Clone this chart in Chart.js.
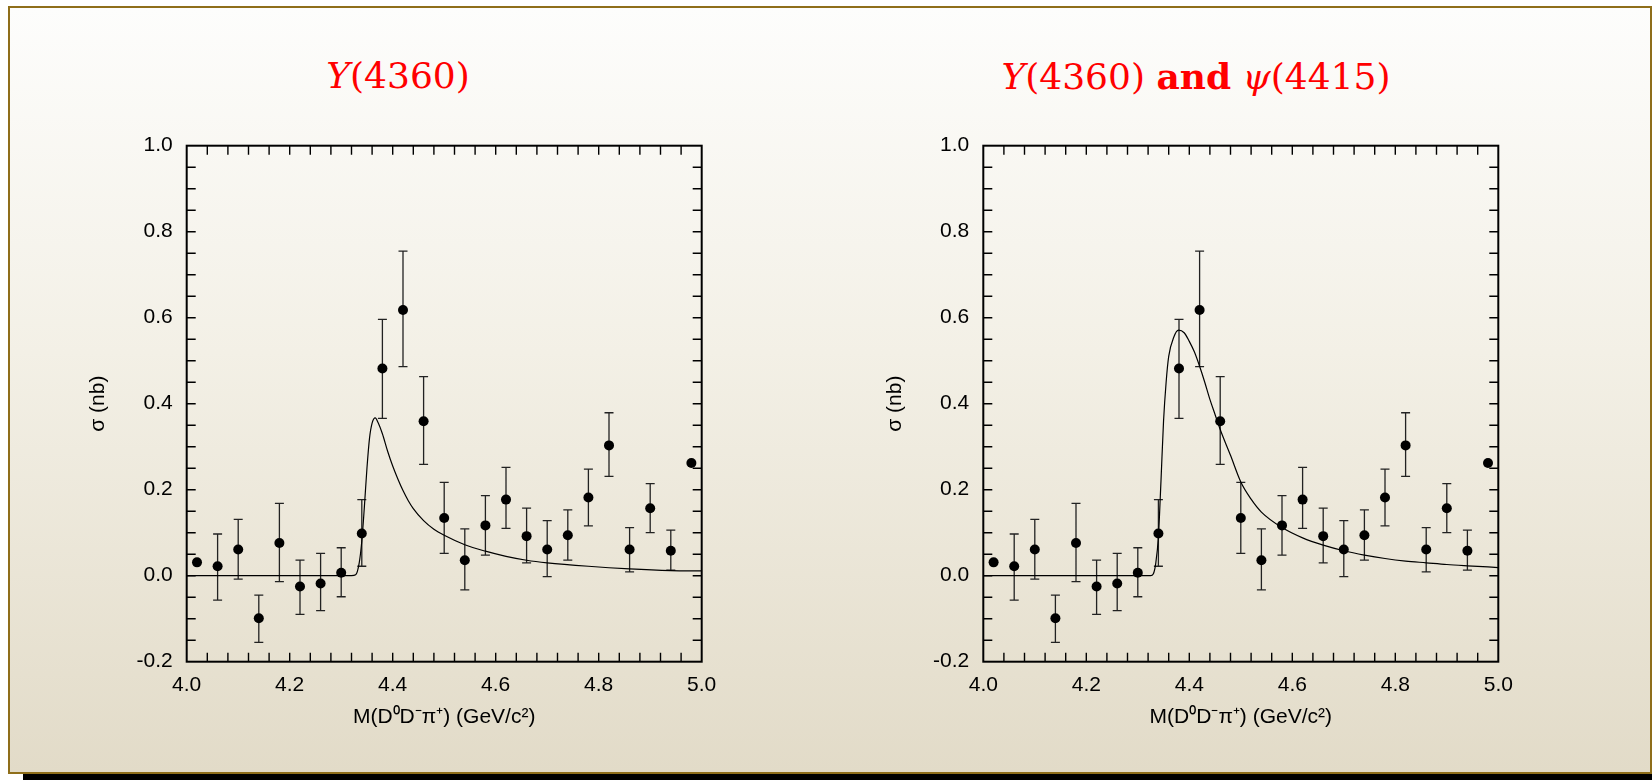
<!DOCTYPE html>
<html>
<head>
<meta charset="utf-8">
<script src="https://cdn.jsdelivr.net/npm/chart.js@4.4.1/dist/chart.umd.min.js"></script>
<style>
  html, body { margin: 0; padding: 0; background: #fff; }
  body { width: 1652px; height: 780px; position: relative; overflow: hidden; }
  .frame {
    position: absolute; left: 8px; top: 6px; width: 1640px; height: 764px;
    border: 2px solid #8f6e1a;
    background: linear-gradient(#fdfdfc, #f3f0e6 45%, #e2dbc8);
  }
  .shadow { position: absolute; left: 23px; top: 774px; width: 1629px; height: 6px; background: #000; }
  .title {
    position: absolute; top: 57px; line-height: 38px; font-size: 36px;
    font-family: "DejaVu Serif", "Liberation Serif", serif; color: #f00;
    transform: translateX(-50%); white-space: nowrap;
  }
  .title i { font-style: italic; }
  canvas { position: absolute; top: 0; }
</style>
</head>
<body>
<div class="frame"></div>
<div class="shadow"></div>
<div class="title" style="left: 398px"><i>Y</i>(4360)</div>
<div class="title" style="left: 1196px"><i>Y</i>(4360) <b>and</b> <i>ψ</i>(4415)</div>
<canvas id="left" width="826" height="780" style="left: 0"></canvas>
<canvas id="right" width="826" height="780" style="left: 826px"></canvas>
<script>
// measured cross section, D0 D- pi+ mass bins (GeV/c^2)
const massBins = [4.02, 4.06, 4.10, 4.14, 4.18, 4.22, 4.26, 4.30, 4.34, 4.38, 4.42, 4.46, 4.50,
  4.54, 4.58, 4.62, 4.66, 4.70, 4.74, 4.78, 4.82, 4.86, 4.90, 4.94, 4.98];
const sigma = [0.031, 0.022, 0.061, -0.099, 0.076, -0.025, -0.018, 0.007, 0.098, 0.482, 0.618, 0.359, 0.134,
  0.036, 0.117, 0.177, 0.092, 0.061, 0.094, 0.182, 0.303, 0.061, 0.157, 0.058, 0.262];
const errHigh = [null, 0.097, 0.131, -0.045, 0.168, 0.036, 0.052, 0.065, 0.177, 0.596, 0.755, 0.463, 0.217,
  0.109, 0.186, 0.252, 0.157, 0.128, 0.153, 0.248, 0.379, 0.112, 0.214, 0.106, null];
const errLow = [null, -0.057, -0.008, -0.155, -0.014, -0.090, -0.081, -0.049, 0.022, 0.366, 0.486, 0.259, 0.052,
  -0.033, 0.048, 0.110, 0.030, -0.002, 0.036, 0.116, 0.231, 0.009, 0.100, 0.013, null];

// fit curve, Y(4360) only
const fitAX = [4.00, 4.32, 4.328, 4.335, 4.34, 4.345, 4.35, 4.355, 4.36, 4.366, 4.372, 4.38, 4.39, 4.40,
  4.41, 4.42, 4.43, 4.44, 4.46, 4.48, 4.50, 4.54, 4.58, 4.62, 4.66, 4.70, 4.78, 4.86, 4.94, 5.00];
const fitAY = [0, 0, 0.002, 0.03, 0.08, 0.16, 0.25, 0.32, 0.355, 0.367, 0.355, 0.33, 0.29, 0.255,
  0.225, 0.198, 0.175, 0.156, 0.128, 0.108, 0.094, 0.072, 0.057, 0.045, 0.036, 0.030, 0.022, 0.016, 0.012, 0.011];

// fit curve, Y(4360) and psi(4415)
const fitBX = [4.00, 4.325, 4.33, 4.335, 4.34, 4.345, 4.35, 4.355, 4.36, 4.37, 4.379, 4.39, 4.40, 4.41,
  4.42, 4.43, 4.44, 4.45, 4.46, 4.48, 4.50, 4.52, 4.54, 4.58, 4.62, 4.66, 4.70, 4.74, 4.78, 4.82, 4.86,
  4.90, 4.94, 5.00];
const fitBY = [0, 0, 0.004, 0.03, 0.09, 0.22, 0.36, 0.45, 0.51, 0.555, 0.571, 0.565, 0.545, 0.52,
  0.487, 0.45, 0.41, 0.375, 0.34, 0.28, 0.218, 0.178, 0.148, 0.112, 0.088, 0.071, 0.058, 0.048, 0.040,
  0.034, 0.030, 0.026, 0.023, 0.019];

const xTicks = [4.0, 4.2, 4.4, 4.6, 4.8, 5.0];
const yTicks = [-0.2, 0.0, 0.2, 0.4, 0.6, 0.8, 1.0];
const xMinorStep = 0.04;
const yMinorStep = 0.05;

const axisFont = { family: "'Liberation Sans', Arial, sans-serif", size: 21 };

const errorBars = {
  id: "errorBars",
  beforeDatasetsDraw(chart) {
    const { ctx, scales: { x, y } } = chart;
    ctx.save();
    ctx.strokeStyle = "#222";
    ctx.lineWidth = 1.3;
    ctx.beginPath();
    massBins.forEach((m, i) => {
      if (errLow[i] === null) return;
      const px = x.getPixelForValue(m);
      const top = y.getPixelForValue(errHigh[i]);
      const bot = y.getPixelForValue(errLow[i]);
      ctx.moveTo(px, top); ctx.lineTo(px, bot);
      ctx.moveTo(px - 4.5, top); ctx.lineTo(px + 4.5, top);
      ctx.moveTo(px - 4.5, bot); ctx.lineTo(px + 4.5, bot);
    });
    ctx.stroke();
    ctx.restore();
  },
};

const frameTicks = {
  id: "frameTicks",
  afterDraw(chart) {
    const { ctx, chartArea: a, scales: { x, y } } = chart;
    const len = 9;
    ctx.save();
    ctx.strokeStyle = "#000";
    ctx.lineWidth = 1.4;
    ctx.beginPath();
    const nx = Math.round((x.max - x.min) / xMinorStep);
    for (let i = 1; i < nx; i++) {
      const px = x.getPixelForValue(x.min + i * xMinorStep);
      ctx.moveTo(px, a.bottom); ctx.lineTo(px, a.bottom - len);
      ctx.moveTo(px, a.top); ctx.lineTo(px, a.top + len);
    }
    const ny = Math.round((y.max - y.min) / yMinorStep);
    for (let i = 1; i < ny; i++) {
      const py = y.getPixelForValue(y.min + i * yMinorStep);
      ctx.moveTo(a.left, py); ctx.lineTo(a.left + len, py);
      ctx.moveTo(a.right, py); ctx.lineTo(a.right - len, py);
    }
    ctx.stroke();
    ctx.lineWidth = 2;
    ctx.strokeRect(a.left, a.top, a.right - a.left, a.bottom - a.top);
    ctx.restore();
  },
};

function makeChart(id, fitX, fitY, padLeft, padRight) {
  return new Chart(document.getElementById(id), {
    type: "scatter",
    data: {
      datasets: [
        {
          data: massBins.map((m, i) => ({ x: m, y: sigma[i] })),
          pointRadius: 5,
          pointBackgroundColor: "#000",
          pointBorderWidth: 0,
        },
        {
          data: fitX.map((m, i) => ({ x: m, y: fitY[i] })),
          showLine: true,
          borderColor: "#000",
          borderWidth: 1.2,
          pointRadius: 0,
          cubicInterpolationMode: "monotone",
        },
      ],
    },
    options: {
      responsive: false,
      animation: false,
      devicePixelRatio: 1,
      layout: { padding: { left: padLeft, right: padRight, top: 145.7, bottom: 38.3 } },
      plugins: { legend: { display: false }, tooltip: { enabled: false } },
      scales: {
        x: {
          type: "linear",
          min: 4.0,
          max: 5.0,
          grid: { display: false, drawTicks: false },
          border: { display: false },
          afterBuildTicks: (s) => { s.ticks = xTicks.map((v) => ({ value: v })); },
          afterFit: (s) => { s.height = 80; },
          ticks: {
            font: axisFont, color: "#000", padding: 11, autoSkip: false, maxRotation: 0,
            callback: (v) => v.toFixed(1),
          },
          title: {
            display: true, text: "M(D⁰D⁻π⁺) (GeV/c²)", font: axisFont, color: "#000",
            padding: { top: 0, bottom: 12 },
          },
        },
        y: {
          type: "linear",
          min: -0.2,
          max: 1.0,
          grid: { display: false, drawTicks: false },
          border: { display: false },
          afterBuildTicks: (s) => { s.ticks = yTicks.map((v) => ({ value: v })); },
          afterFit: (s) => { s.width = 101; },
          ticks: {
            font: axisFont, color: "#000", padding: 14, autoSkip: false,
            callback: (v) => v.toFixed(1),
          },
          title: {
            display: true, text: "σ (nb)", font: axisFont, color: "#000",
            padding: { top: 0, bottom: 0 },
          },
        },
      },
    },
    plugins: [errorBars, frameTicks],
  });
}

makeChart("left", fitAX, fitAY, 85.7, 124.3);
makeChart("right", fitBX, fitBY, 56.3, 153.7);
</script>
</body>
</html>
